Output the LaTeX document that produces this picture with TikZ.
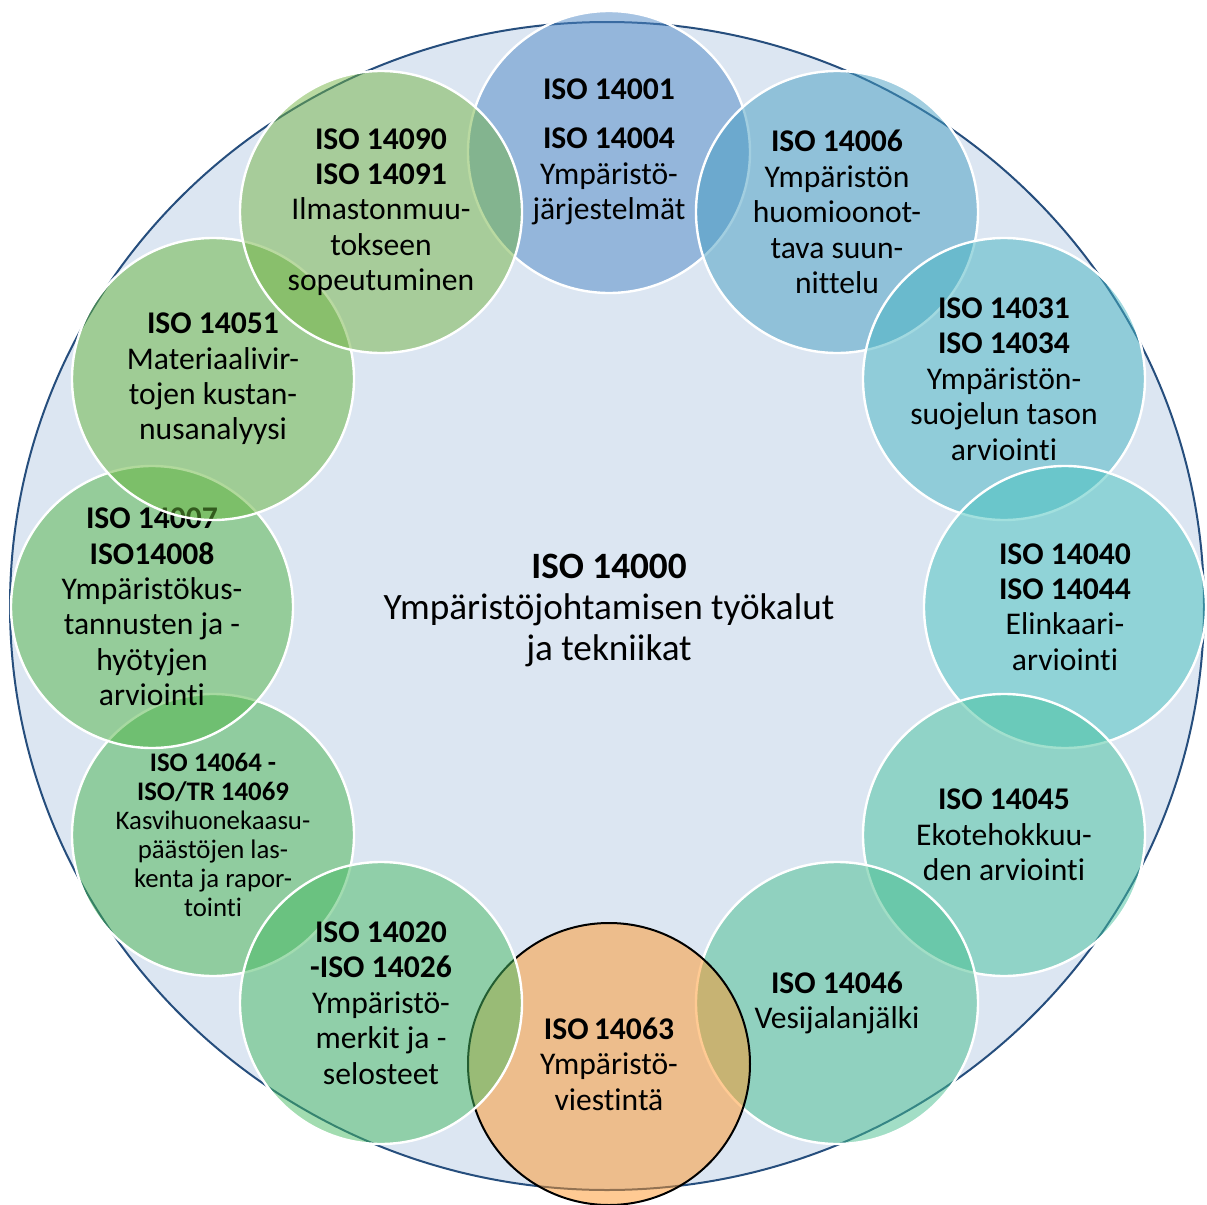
\documentclass[tikz,border=0pt]{standalone}
\usepackage{fontspec}
\setmainfont{Carlito}[Ligatures={NoCommon,NoContextual}]
\usepackage{tikz}
\definecolor{bigfill}{RGB}{220,230,242}
\definecolor{bigline}{RGB}{38,78,125}
\definecolor{c14001}{RGB}{78,136,198}
\definecolor{c14006}{RGB}{70,158,194}
\definecolor{c14031}{RGB}{70,180,194}
\definecolor{c14040}{RGB}{70,194,190}
\definecolor{c14045}{RGB}{70,194,158}
\definecolor{c14046}{RGB}{70,190,142}
\definecolor{c14063}{RGB}{255,150,40}
\definecolor{c14064}{RGB}{70,180,78}
\definecolor{c14020}{RGB}{70,186,98}
\definecolor{c14007}{RGB}{80,180,68}
\definecolor{c14051}{RGB}{100,180,58}
\definecolor{c14090}{RGB}{116,180,68}

\begin{document}
\begin{tikzpicture}[x=0.5pt,y=-0.5pt,
  iso/.style={circle,minimum size=141pt,inner sep=0pt,draw=white,line width=1.2pt,
    fill opacity=0.5,text opacity=1,align=center,font=\fontsize{15.8}{17.7}\selectfont}]
\useasboundingbox (0,0) rectangle (1207,1205);
\draw[bigline,fill=bigfill,line width=1pt] (607,606) ellipse [x radius=298.5pt,y radius=292pt];
\node[font=\fontsize{18.6}{20.5}\selectfont,align=center] (iso14000) at (609,610)
  {\textbf{ISO 14000}\\Ympäristöjohtamisen työkalut\\ja tekniikat};

\node[iso,fill=c14001] (iso14001) at (609,152)
  {\textbf{ISO 14001}\\[7pt]\textbf{ISO 14004}\\Ympäristö-\\järjestelmät};
\node[iso,fill=c14006] (iso14006) at (837,212)
  {\textbf{ISO 14006}\\Ympäristön\\huomioonot-\\tava suun-\\nittelu};
\node[iso,fill=c14031] (iso14031) at (1004,379)
  {\textbf{ISO 14031}\\\textbf{ISO 14034}\\Ympäristön-\\suojelun tason\\arviointi};
\node[iso,fill=c14040] (iso14040) at (1065,607)
  {\textbf{ISO 14040}\\\textbf{ISO 14044}\\Elinkaari-\\arviointi};
\node[iso,fill=c14045] (iso14045) at (1004,835)
  {\textbf{ISO 14045}\\Ekotehokkuu-\\den arviointi};
\node[iso,fill=c14046] (iso14046) at (837,1003)
  {\textbf{ISO 14046}\\Vesijalanjälki};
\node[iso,fill=c14063,draw=black,line width=1pt] (iso14063) at (609,1064)
  {\textbf{ISO\,14063}\\Ympäristö-\\viestintä};
\node[iso,fill=c14064,font=\fontsize{13.4}{14.5}\selectfont] (iso14064) at (213,835)
  {\textbf{ISO 14064 -}\\\textbf{ISO/TR 14069}\\Kasvihuonekaasu-\\päästöjen las-\\kenta ja rapor-\\tointi};
\node[iso,fill=c14020] (iso14020) at (381,1003)
  {\textbf{ISO 14020}\\\textbf{-ISO 14026}\\Ympäristö-\\merkit ja -\\selosteet};
\node[iso,fill=c14007] (iso14007) at (152,607)
  {\textbf{ISO 14007}\\\textbf{ISO14008}\\Ympäristökus-\\tannusten ja -\\hyötyjen\\arviointi};
\node[iso,fill=c14051] (iso14051) at (213,379)
  {\textbf{ISO 14051}\\Materiaalivir-\\tojen kustan-\\nusanalyysi};
\node[iso,fill=c14090] (iso14090) at (381,212)
  {\textbf{ISO 14090}\\\textbf{ISO 14091}\\Ilmastonmuu-\\tokseen\\sopeutuminen};
\end{tikzpicture}
\end{document}
